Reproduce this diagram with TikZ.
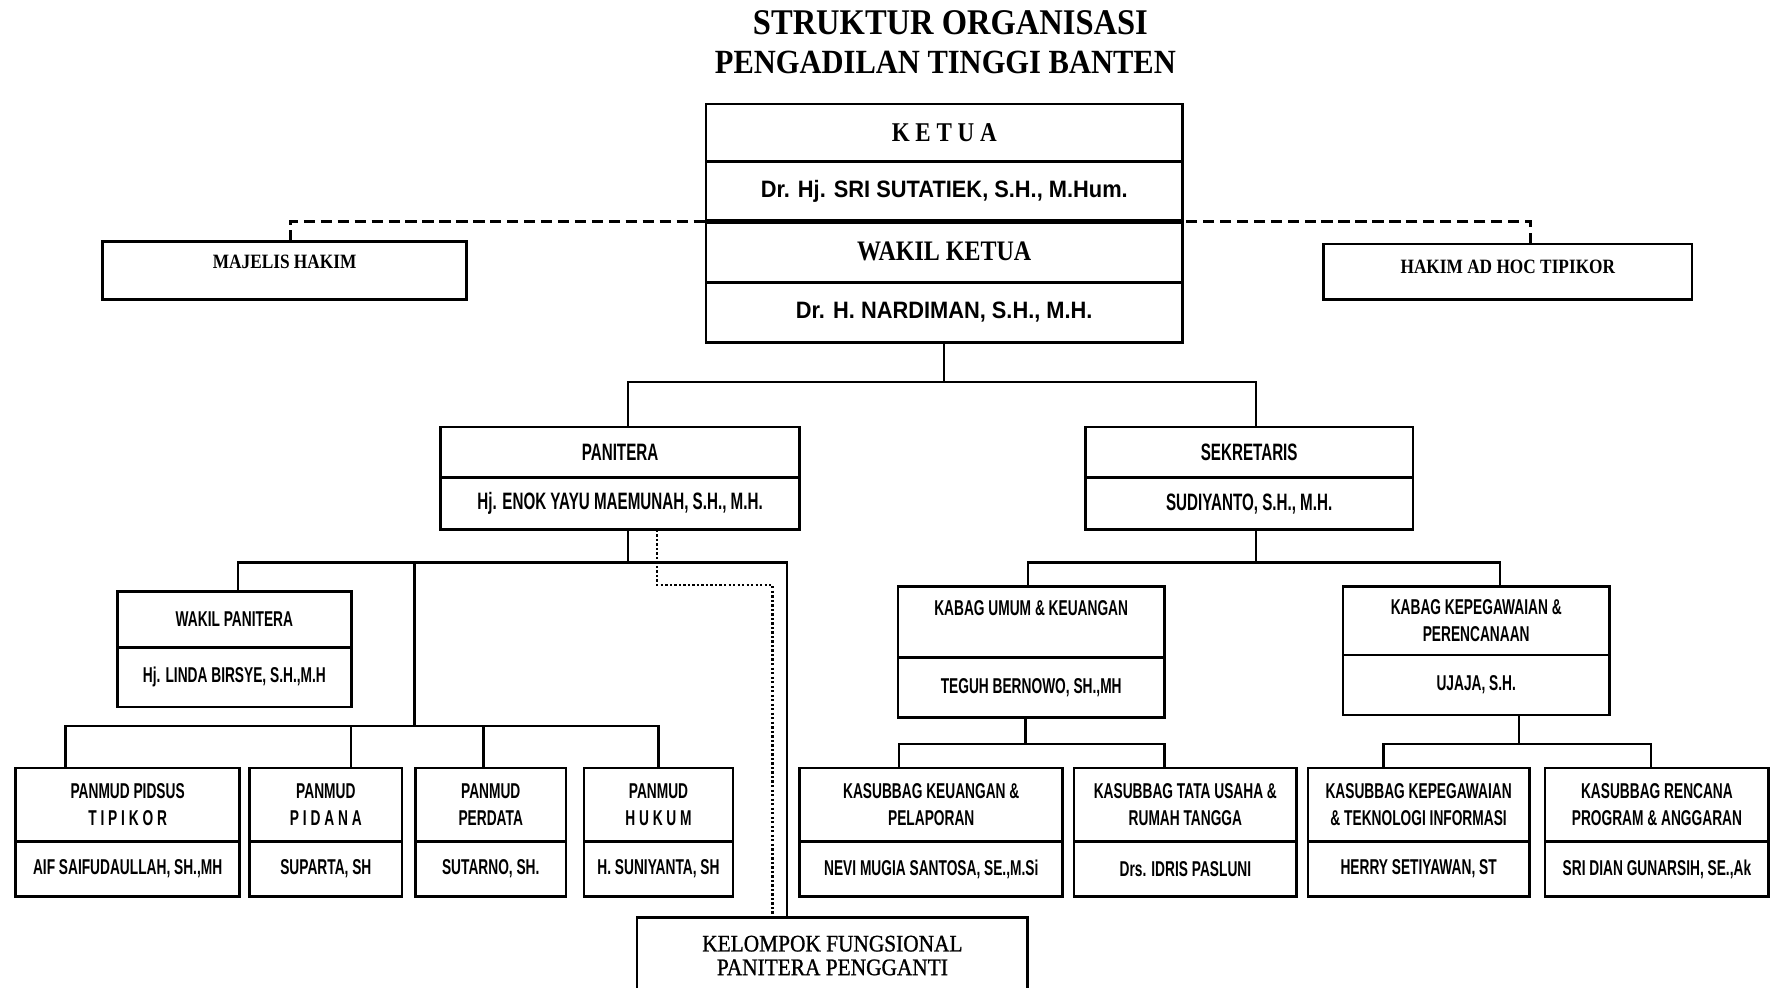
\documentclass[tikz,border=0pt]{standalone}
\usepackage{fontspec}
\usetikzlibrary{positioning}
\newfontfamily\judulfont{Liberation Serif}[FakeStretch=0.9]
\newfontfamily\kelompokfont{Liberation Serif}[FakeStretch=0.9, FakeBold=1]
\newfontfamily\serifsempit{Liberation Serif}[FakeStretch=0.85]
\newfontfamily\namafont{Liberation Sans}[FakeStretch=0.92]
\newfontfamily\boxfont{Liberation Sans}[FakeStretch=0.64]

\tikzset{
  sel/.style={draw, line width=1.2pt, inner sep=1pt, outer sep=0pt, align=center},
  jabatan/.style={sel, font=\boxfont\bfseries\fontsize{10.5}{12}\selectfont},
  kecil/.style={sel, font=\boxfont\bfseries\fontsize{9.5}{12}\selectfont},
  pimpinan/.style={sel, minimum width=211pt, font=\serifsempit\bfseries\fontsize{12.5}{14}\selectfont},
  pimpinannama/.style={sel, minimum width=211pt, font=\namafont\bfseries\fontsize{10.5}{12}\selectfont},
  hakimbox/.style={sel, font=\serifsempit\bfseries\fontsize{9}{10}\selectfont},
  garis/.style={line width=1pt},
  putus/.style={line width=1.2pt, dash pattern=on 5pt off 2.5pt},
  titik/.style={line width=1pt, dash pattern=on 1pt off 1pt},
}

\begin{document}
\begin{tikzpicture}[x=0.5pt, y=-0.5pt]
    \fill[white] (0,0) rectangle (1568,874);
    \clip (0,0) rectangle (1568,874);

    % Judul
    \node[font=\judulfont\bfseries\fontsize{16}{18}\selectfont] (judul) at (841.5,20) {STRUKTUR ORGANISASI};
    \node[font=\judulfont\bfseries\fontsize{15}{17}\selectfont] (subjudul) at (837,55) {PENGADILAN TINGGI BANTEN};

    % Ketua dan wakil ketua
    \node[pimpinan, minimum height=25.5pt, font=\serifsempit\bfseries\fontsize{12}{14}\selectfont] (ketua) at (836,117.5) {K E T U A};
    \node[pimpinannama, minimum height=26.5pt, below=0pt of ketua] (ketuanama) {Dr. Hj. SRI SUTATIEK, S.H., M.Hum.};
    \node[pimpinan, minimum height=27pt, below=0pt of ketuanama] (wakil) {WAKIL KETUA};
    \node[pimpinannama, minimum height=26.5pt, below=0pt of wakil] (wakilnama) {Dr. H. NARDIMAN, S.H., M.H.};
    \draw[line width=2pt] (wakil.north west) -- (wakil.north east);

    % Hakim
    \node[hakimbox, minimum width=161pt, minimum height=25.5pt, text depth=8pt] (majelis) at (252,239.5) {MAJELIS HAKIM};
    \node[hakimbox, minimum width=163pt, minimum height=24.5pt, text depth=4pt] (hakim) at (1335,240.5) {HAKIM AD HOC TIPIKOR};
    \draw[putus] ([xshift=2.5pt]majelis.north) |- (wakil.north west);
    \draw[putus] ([xshift=10pt]hakim.north) |- (wakil.north east);

    % Panitera dan sekretaris
    \node[jabatan, minimum width=159pt, minimum height=22.5pt] (panitera) at (549,400.5) {PANITERA};
    \node[jabatan, minimum width=159pt, minimum height=23pt, below=0pt of panitera] (paniteranama) {Hj. ENOK YAYU MAEMUNAH, S.H., M.H.};
    \node[jabatan, minimum width=145pt, minimum height=22.5pt] (sekretaris) at (1106,400.5) {SEKRETARIS};
    \node[jabatan, minimum width=145pt, minimum height=23pt, below=0pt of sekretaris] (sekretarisnama) {SUDIYANTO, S.H., M.H.};
    \draw[garis] (wakilnama.south) -- ++(0,35) -| ([xshift=3.5pt]panitera.north);
    \draw[garis] (wakilnama.south) -- ++(0,35) -| ([xshift=3pt]sekretaris.north);

    % Wakil panitera
    \node[kecil, minimum width=103.5pt, minimum height=24.5pt] (wakilpanitera) at (207.5,548.5) {WAKIL PANITERA};
    \node[kecil, minimum width=103.5pt, minimum height=26.5pt, below=0pt of wakilpanitera] (wakilpaniteranama) {Hj. LINDA BIRSYE, S.H.,M.H};

    % Kabag
    \node[kecil, minimum width=118pt, minimum height=31.5pt] (kabagumum) at (913,550.5) {KABAG UMUM \& KEUANGAN\\ ~};
    \node[kecil, minimum width=118pt, minimum height=26.5pt, below=0pt of kabagumum] (kabagumumnama) {TEGUH BERNOWO, SH.,MH};
    \node[kecil, minimum width=118pt, minimum height=30.5pt] (kabagpeg) at (1307,549.5) {KABAG KEPEGAWAIAN \&\\ PERENCANAAN};
    \node[kecil, minimum width=118pt, minimum height=26.5pt, below=0pt of kabagpeg] (kabagpegnama) {UJAJA, S.H.};

    % Panmud
    \node[kecil, minimum width=99pt, minimum height=32.5pt] (pidsus) at (113,712.5) {PANMUD PIDSUS\\ T I P I K O R};
    \node[kecil, minimum width=99pt, minimum height=24.5pt, below=0pt of pidsus] (pidsusnama) {AIF SAIFUDAULLAH, SH.,MH};
    \node[kecil, minimum width=67.5pt, minimum height=32.5pt] (pidana) at (288.5,712.5) {PANMUD\\ P I D A N A};
    \node[kecil, minimum width=67.5pt, minimum height=24.5pt, below=0pt of pidana] (pidananama) {SUPARTA, SH};
    \node[kecil, minimum width=66.5pt, minimum height=32.5pt] (perdata) at (434.5,712.5) {PANMUD\\ PERDATA};
    \node[kecil, minimum width=66.5pt, minimum height=24.5pt, below=0pt of perdata] (perdatanama) {SUTARNO, SH.};
    \node[kecil, minimum width=66pt, minimum height=32.5pt] (hukum) at (583,712.5) {PANMUD\\ H U K U M};
    \node[kecil, minimum width=66pt, minimum height=24.5pt, below=0pt of hukum] (hukumnama) {H. SUNIYANTA, SH};

    % Kasubbag
    \node[kecil, minimum width=116.5pt, minimum height=32.5pt] (subkeu) at (824.5,712.5) {KASUBBAG KEUANGAN \&\\ PELAPORAN};
    \node[kecil, minimum width=116.5pt, minimum height=24.5pt, below=0pt of subkeu] (subkeunama) {NEVI MUGIA SANTOSA, SE.,M.Si};
    \node[kecil, minimum width=98.5pt, minimum height=32.5pt] (subtu) at (1049.5,712.5) {KASUBBAG TATA USAHA \&\\ RUMAH TANGGA};
    \node[kecil, minimum width=98.5pt, minimum height=24.5pt, below=0pt of subtu] (subtunama) {Drs. IDRIS PASLUNI};
    \node[kecil, minimum width=98pt, minimum height=32.5pt] (subpeg) at (1256,712.5) {KASUBBAG KEPEGAWAIAN\\ \& TEKNOLOGI INFORMASI};
    \node[kecil, minimum width=98pt, minimum height=24.5pt, below=0pt of subpeg] (subpegnama) {HERRY SETIYAWAN, ST};
    \node[kecil, minimum width=99pt, minimum height=32.5pt] (subren) at (1467,712.5) {KASUBBAG RENCANA\\ PROGRAM \& ANGGARAN};
    \node[kecil, minimum width=99pt, minimum height=24.5pt, below=0pt of subren] (subrennama) {SRI DIAN GUNARSIH, SE.,Ak};

    % Kelompok fungsional
    \node[sel, minimum width=173pt, minimum height=34pt, font=\kelompokfont\fontsize{10.5}{10.5}\selectfont] (kelompok) at (737,846) {KELOMPOK FUNGSIONAL\\ PANITERA PENGGANTI};

    % Garis panitera
    \coordinate (simpul) at (367,498);
    \coordinate (busmud) at (367,643);
    \draw[garis] ([xshift=3.5pt]paniteranama.south) -- ++(0,29) -| ([xshift=1.75pt]wakilpanitera.north);
    \draw[garis] ([xshift=3.5pt]paniteranama.south) -- ++(0,29) -| ([xshift=-20pt]kelompok.north);
    \draw[garis] (simpul) -- (busmud);
    \draw[garis] (busmud) -| ([xshift=-27.5pt]pidsus.north);
    \draw[garis] (busmud) -| ([xshift=11.25pt]pidana.north);
    \draw[garis] (busmud) -| ([xshift=-3.25pt]perdata.north);
    \draw[garis] (busmud) -| (hukum.north);
    \draw[titik] ([xshift=16.5pt]paniteranama.south) -- ++(0,49) -| ([xshift=-26.5pt]kelompok.north);

    % Garis sekretaris
    \draw[garis] ([xshift=3pt]sekretarisnama.south) -- ++(0,29) -| ([xshift=-1.5pt]kabagumum.north);
    \draw[garis] ([xshift=3pt]sekretarisnama.south) -- ++(0,29) -| ([xshift=10.5pt]kabagpeg.north);
    \draw[garis] ([xshift=-2.5pt]kabagumumnama.south) -- ++(0,24) -| ([xshift=-14.25pt]subkeu.north);
    \draw[garis] ([xshift=-2.5pt]kabagumumnama.south) -- ++(0,24) -| ([xshift=-9.25pt]subtu.north);
    \draw[garis] ([xshift=19pt]kabagpegnama.south) -- ++(0,26) -| ([xshift=-15.5pt]subpeg.north);
    \draw[garis] ([xshift=19pt]kabagpegnama.south) -- ++(0,26) -| ([xshift=-2.5pt]subren.north);
\end{tikzpicture}
\end{document}
